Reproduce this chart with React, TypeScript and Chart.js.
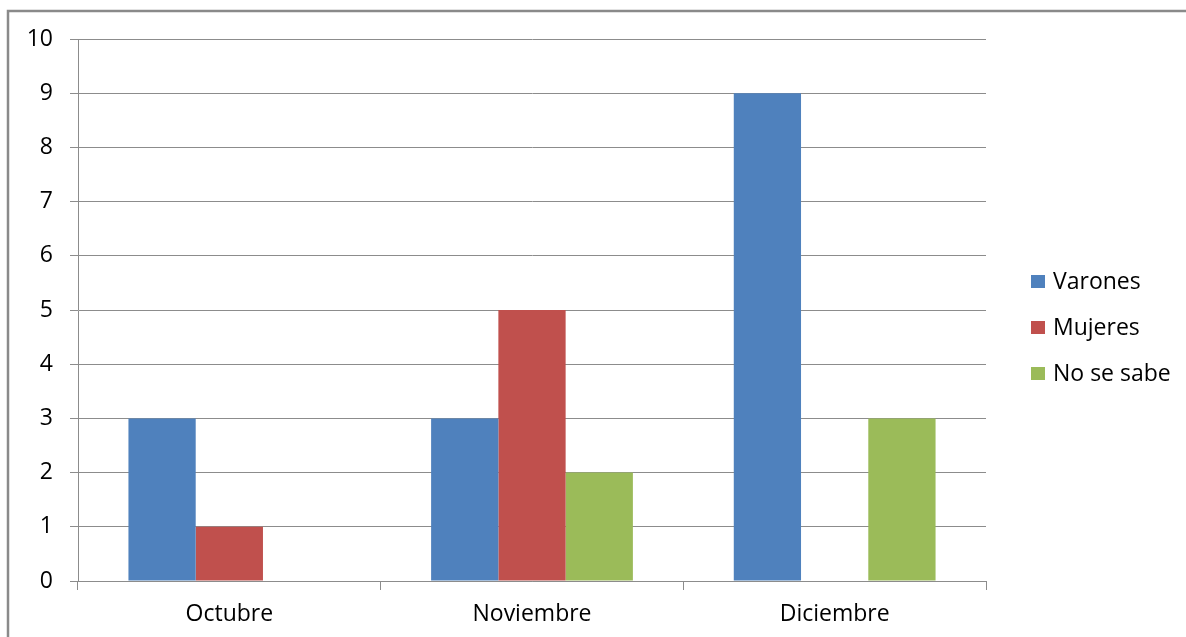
import React, { useEffect, useRef } from "react";
import { Chart, registerables } from "chart.js";

Chart.register(...registerables);

const categories = ["Octubre", "Noviembre", "Diciembre"];
const seriesNames = ["Varones", "Mujeres", "No se sabe"];
const varones = [3, 3, 9];
const mujeres = [1, 5, 0];
const noSeSabe = [0, 2, 3];
const colors = ["#4F81BD", "#C0504D", "#9BBB59"];
const yMin = 0;
const yMax = 10;

const FONT = "'Open Sans', 'DejaVu Sans', sans-serif";
const GRID = "#8c8c8c";

const frameAndLegend = {
  id: "frameAndLegend",
  afterDraw(chart: any) {
    const ctx = chart.ctx;
    ctx.save();
    ctx.strokeStyle = "#8a8a8a";
    ctx.lineWidth = 2.5;
    ctx.strokeRect(8, 11, 2000, 2000);
    ctx.font = `23px ${FONT}`;
    ctx.textBaseline = "middle";
    ctx.textAlign = "left";
    const ds = chart.data.datasets;
    ds.forEach((d: any, i: number) => {
      const y = 282 + i * 46;
      ctx.fillStyle = d.backgroundColor;
      ctx.fillRect(1031, y - 7, 14, 13);
      ctx.fillStyle = "#000";
      ctx.fillText(d.label, 1053, y);
    });
    ctx.restore();
  },
};

export default function App() {
  const ref = useRef<HTMLCanvasElement | null>(null);
  useEffect(() => {
    if (!ref.current) return;
    const values = [varones, mujeres, noSeSabe];
    const chart = new Chart(ref.current, {
      type: "bar",
      data: {
        labels: categories,
        datasets: seriesNames.map((name, i) => ({
          label: name,
          data: values[i],
          backgroundColor: colors[i],
          borderWidth: 0,
          categoryPercentage: 3 / 4.5,
          barPercentage: 1,
        })),
      },
      options: {
        animation: false,
        responsive: true,
        maintainAspectRatio: false,
        layout: { padding: { left: 0, top: 39, right: 200, bottom: 0 } },
        plugins: {
          legend: { display: false },
          tooltip: { enabled: false },
        },
        scales: {
          x: {
            grid: {
              display: true,
              drawOnChartArea: false,
              drawTicks: true,
              tickLength: 9,
              color: GRID,
              offset: true,
            },
            border: { display: true, color: GRID, width: 1 },
            ticks: {
              color: "#000",
              font: { family: FONT, size: 23 },
              padding: 11,
            },
            afterFit(scale: any) {
              scale.height = 56;
            },
          },
          y: {
            min: yMin,
            max: yMax,
            grid: {
              color: GRID,
              tickLength: 8,
              drawTicks: true,
            },
            border: { display: true, color: GRID, width: 1 },
            ticks: {
              stepSize: 1,
              color: "#000",
              font: { family: FONT, size: 23 },
              padding: 17,
            },
            afterFit(scale: any) {
              scale.width = 78;
            },
          },
        },
      },
      plugins: [frameAndLegend],
    });
    return () => chart.destroy();
  }, []);
  return (
    <div style={{ position: "absolute", left: 0, top: 0, width: 1186, height: 637, background: "#fff" }}>
      <canvas ref={ref} />
    </div>
  );
}
